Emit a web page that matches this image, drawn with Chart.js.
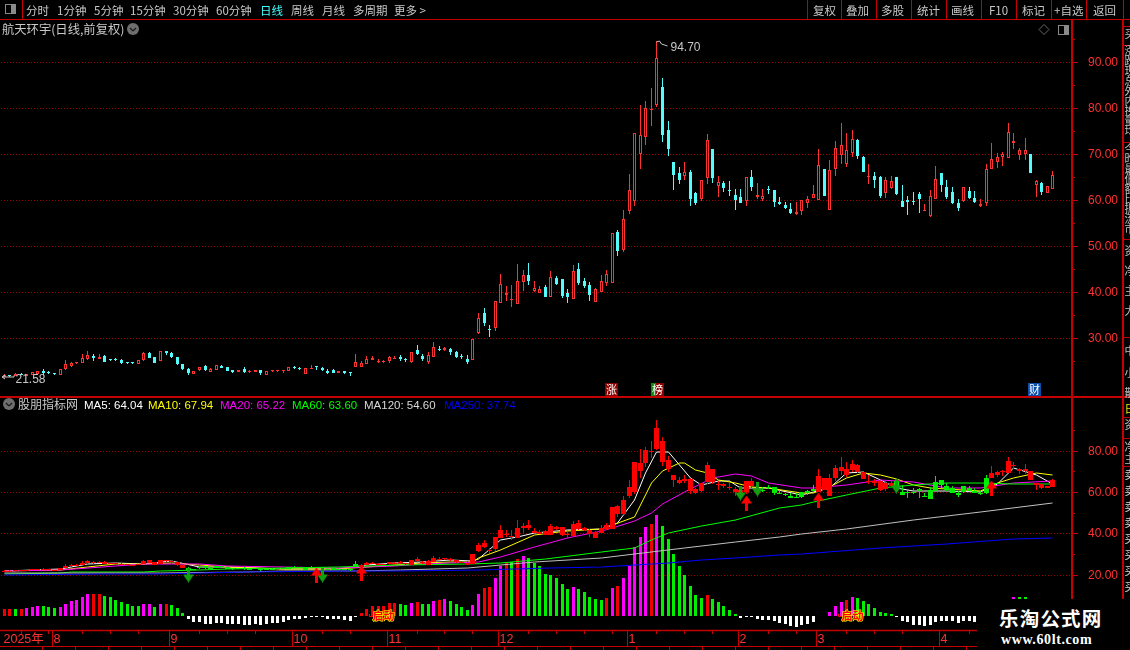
<!DOCTYPE html>
<html lang="zh"><head><meta charset="utf-8"><title>航天环宇</title>
<script src="https://cdn.jsdelivr.net/npm/chart.js@4"></script>
<style>
html,body{margin:0;padding:0;background:#000;width:1130px;height:650px;overflow:hidden}
#wrap{position:relative;width:1130px;height:650px;overflow:hidden;background:#000}
canvas{position:absolute;left:0;top:0}
.t{position:absolute;white-space:nowrap;font:11.5px/14px "Noto Sans CJK SC","Liberation Sans",sans-serif;color:#c8c8c8}
.n{font-family:"Liberation Sans","Noto Sans CJK SC",sans-serif;font-size:12px}
#wm{position:absolute;left:977px;top:599px;width:153px;height:51px;background:#000}
</style></head><body><div id="wrap">
<canvas id="c" width="1130" height="650"></canvas>
<div id="wm"></div>
</div>
<script>
// ---------- data ----------
const opens=[21.7,22.0,21.9,22.3,21.85,22.14,22.28,23.0,22.6,22.43,
22.14,23.37,24.02,24.6,24.74,25.47,26.27,25.54,26.2,25.47,
25.61,25.32,24.96,24.67,24.53,25.32,26.92,25.98,25.03,27.2,
26.77,25.98,24.46,23.3,22.36,23.15,24.02,22.79,23.22,24.02,
23.8,23.08,22.72,23.3,22.65,22.79,23.08,22.14,22.9,23.0,
22.95,23.0,23.8,23.66,22.36,23.44,23.88,23.66,23.0,23.15,
22.57,22.94,22.72,23.88,23.8,24.45,25.32,24.89,24.89,25.1,
25.55,25.9,25.54,24.89,27.5,26.2,24.89,25.98,27.64,27.5,
27.72,27.06,26.2,25.54,25.25,31.27,35.54,31.9,32.35,37.79,
39.53,38.3,37.57,42.35,43.8,40.32,39.89,41.19,39.09,43.15,
42.93,39.89,38.58,45.1,42.5,41.63,37.93,40.11,42.06,42,
53.08,49.24,57.8,59.9,70.0,73.74,79.7,80.84,84.68,75.33,
68.38,65.99,65.4,66.2,61.64,60.33,64.9,71.2,63.16,63.81,
62.2,61.2,60.77,59.9,65.11,60.84,60.33,62.5,62.29,59.68,
59.03,58.16,57.07,57.65,59.46,60.62,60.12,66.85,57.94,66.77,
69.9,68.0,70.4,73.15,69.45,65.0,65.32,65.1,61.63,62.71,
65.1,59.89,60.1,59.85,61.41,57.78,56.7,60.4,65.9,62.93,
61.85,59.45,59.89,62.06,60.54,58.8,59.53,66.77,68.37,69.45,
69.31,72.5,69.89,70.1,70.1,63.37,63.8,61.7,62.5];
const closes=[22.0,21.8,22.3,22.1,22.21,22.65,22.86,22.43,22.55,22.36,
23.3,24.38,24.67,24.89,25.69,26.41,25.76,25.9,24.96,25.32,
25.32,24.6,24.67,24.6,25.25,26.85,25.83,24.67,27.28,26.92,
25.9,24.46,23.37,22.43,22.86,23.8,23.15,23.37,24.24,23.66,
23.0,22.79,23.08,22.79,23.0,23.08,22.5,22.86,23.0,23.08,
23.05,23.73,23.59,23.44,23.51,23.5,23.73,23.22,22.43,22.43,
22.94,22.57,22.43,24.96,24.67,25.54,25.83,25.18,25.1,25.98,
25.7,25.6,25.32,27.06,26.63,25.54,26.41,28.15,27.5,27.93,
27.06,25.98,25.9,24.89,29.82,34.38,33.37,31.75,38.08,41.77,
39.89,38.58,42.42,43.73,42.5,40.98,40.76,39.02,43.37,41.85,
39.24,39.02,44.6,42.06,41.41,39.45,40.76,42.5,44.02,52.87,
49.1,56.0,62.2,74.6,74.17,80.04,79.8,90.91,74.25,71.2,
65.55,64.46,66.13,60.33,59.46,64.39,73.09,64.9,63.96,62.72,
62.0,60.12,59.46,65.04,62.94,61.2,60.91,62.3,59.68,59.25,
58.38,57.29,57.51,60.04,60.33,61.42,67.65,60.98,66.56,71.34,
71.99,70.9,73.29,69.67,66.19,65.1,64.45,60.98,64.45,64.24,
61.41,58.58,59.67,59.75,60.32,57.9,60.9,64.6,63.37,60.76,
59.45,58.37,62.86,60.54,59.67,59.24,66.77,68.95,69.45,70.1,
74.81,72.86,70.9,70.9,65.98,64.24,61.85,63.08,65.54];
const highs=[22.2,22.1,22.4,22.4,22.3,22.7,22.86,23.3,22.9,22.45,
23.3,25.32,24.96,24.96,26.63,27.2,26.63,26.63,26.41,25.61,
25.83,25.47,24.96,24.82,25.25,27.07,27.07,25.98,27.28,27.28,
26.99,25.98,24.46,23.59,22.86,23.8,24.24,23.51,24.24,24.31,
23.8,23.08,23.08,23.8,23.22,23.08,23.08,22.86,23.1,23.2,
23.1,23.73,24.02,23.88,23.51,24.24,23.88,23.88,23.3,23.44,
22.94,22.94,22.72,26.63,25.1,26.2,26.2,25.54,25.4,26.2,
26.2,26.41,25.83,27.06,28.58,26.63,27.06,29.24,28.37,28.15,
27.93,27.28,26.63,26.41,29.82,35.54,36.63,32.93,38.08,44.02,
41.41,41.63,46.2,44.89,46.41,42.5,41.41,41.63,44.67,43.58,
42.93,40.76,45.98,46.41,43.15,42.28,40.98,43.8,44.89,52.87,
53.6,57.9,65.8,74.6,80.77,81.6,84.46,94.7,86.64,77.29,
68.38,67.29,68.38,66.64,61.85,64.39,74.46,71.2,65.33,64.24,
64.24,62.5,62.5,65.04,66.64,63.81,62.5,63.16,62.29,60.77,
59.68,59.46,59.68,60.04,61.0,63.38,71.2,66.85,68.81,72.93,
76.84,74.67,75.32,73.37,69.67,67.93,66.19,65.32,65.1,65.32,
65.1,63.37,60.98,61.85,61.85,59.24,62.28,67.5,65.9,64.45,
62.93,60.32,62.86,62.93,62.06,60.32,67.93,72.5,70.32,70.54,
76.84,74.67,71.41,73.58,70.1,64.45,64.02,63.08,66.41];
const lows=[21.58,21.7,21.9,22.0,21.85,22.1,22.28,22.14,22.3,22.14,
22.14,23.15,23.9,24.38,24.74,25.25,25.18,25.54,24.96,25.18,
25.1,24.45,24.5,24.45,24.53,25.18,25.76,24.67,25.03,26.34,
25.76,24.17,23.15,22.14,22.36,22.86,23.0,22.79,23.22,23.66,
23.0,22.43,22.72,22.43,22.43,22.79,21.99,22.14,22.8,22.8,
22.6,23.0,23.37,23.15,22.36,23.44,23.15,23.0,22.28,22.43,
22.57,22.28,21.85,23.73,23.8,24.45,25.32,24.6,24.6,24.67,
25.55,25.1,24.89,24.67,26.41,25.1,24.45,25.98,27.28,27.28,
26.41,25.76,25.54,24.45,25.25,30.98,32.71,30.32,31.63,37.79,
38.15,36.85,37.57,40.32,41.63,40.03,39.89,39.02,39.09,41.63,
38.8,37.72,38.58,41.63,40.98,38.15,37.93,40.11,41.41,42,
48.0,48.9,57.07,58.8,66.85,72.07,76.2,80.33,72.72,69.68,
62.3,63.6,64.46,58.81,59.03,59.83,63.6,63.81,60.77,61.85,
60.98,57.94,59.46,58.81,62.07,60.33,59.9,61.42,58.6,59.03,
58.16,57.07,56.85,56.85,58.38,60.62,60.12,60.98,57.94,65.4,
67.93,67.35,69.45,69.02,66.19,63.58,62.71,60.54,60.54,62.5,
61.2,58.58,56.84,59.02,57.28,57.78,56.41,60.4,61.85,60.32,
59.24,57.71,59.67,60.32,59.45,58.58,58.8,66.77,67.06,67.5,
69.31,71.19,68.8,68.8,65.98,60.76,61.19,61.7,62.5];
const histValues=[6.7,6.7,7,6.7,8,9,10.3,10,9,8,
9,12,15,16,19,22,22,22,20,18.7,
16,14,12,10,10,12,12,9,12,12,
11,8,3,-3,-6,-6,-8,-8,-7,-7,
-8,-8,-8,-9,-9,-8,-9,-8,-7,-7,
-6,-4,-3,-3,-2,-1,-0.5,-1,-3,-3,
-3,-4,-5,-0.5,3,7,10,10,10,12.7,
12.7,12,11,13,14,12,12,15,16,17,
15,12,9,6,11,22,28,29,38,50,
54,54,57,60,58,53,50,42,41,38,
32,27,29,27,24,19,17,16,18,28,
30,38,50,69,79,89,92,101,90,77,
62,50,41,30,21,18,21,17,14,10,
6,2,-2,-1,-1,-3,-4,-4,-5,-7,
-8,-10,-11,-9,-8,-6,-0.3,-0.3,4,10,
14,16,19,18,15,12,8,4,3,2,
-1,-5,-6,-9,-9,-10,-9,-6,-5,-5,
-5,-7,-5,-5,-6,-3,2,8,12,15,
17,19,19,19,16,13,10,8,6];
const histKinds="RRGRMMMGGG"+"MMMMMMRRGG"+"GGGGGMMGMR"+"GGGWWWWWWW"+"WWWWWWWWWW"+"WWWWWWWWWW"+"WWWWRRRRRR"+"RGGMRGGMRM"+"GGGGMMRRMM"+"RGRMGGGGGG"+"GGMGGGGGRM"+"RMMMMMRMGG"+"GGGGGGRGGG"+"GGWWWWWWWW"+"WWWWWWWWMM"+"MRMGGGGGGG"+"WWWWWWWWWW"+"WWWWWWRRMM"+"MMGGGGGGG";
const greenRuns=[[33,63],[135,145],[160,176]];
const ma5=[[0,22],[5,22.3],[10,22.8],[15,25],[20,25.6],[25,25.3],[30,26.4],[35,23.5],[40,23.5],[50,23],[60,22.8],[65,24.5],[70,25.5],[75,26],[80,27],[84,26.5],[85,27.5],[89,36.8],[92,38.4],[95,40],[101,41.6],[107,42],[109,44],[110,45],[113,56],[115,69],[117,79.4],[119,79.4],[121,73],[123,66.6],[125,63.3],[128,65.2],[130,65.2],[132,61.7],[137,61.7],[143,58.5],[148,61.7],[151,69],[154,69.8],[157,65.7],[160,61.7],[163,60.5],[169,60.5],[175,59.8],[178,64],[181,71.4],[185,68.2],[188,64.04]];
const ma10=[[0,22],[10,22.4],[15,23.8],[20,25.4],[25,25.4],[30,25.8],[35,24.8],[40,23.5],[50,23],[60,23],[65,23.7],[70,24.8],[75,25.6],[80,26.3],[84,26.3],[85,27.9],[89,31.9],[95,39.2],[101,41.3],[107,42],[109,44],[113,48],[116,64.3],[118,70.2],[121,73.8],[122,74.1],[124,70.6],[126,69.3],[128,65.7],[131,64.1],[134,62.2],[137,61.7],[143,59.6],[145,59.3],[148,62.5],[151,66.6],[154,69],[157,68.2],[160,66],[163,63.3],[166,61.7],[169,61.3],[175,60.6],[178,64.1],[181,66.6],[185,69.3],[188,67.94]];
const ma20=[[0,21.9],[10,22.3],[20,24],[25,25],[30,25.4],[35,25.2],[40,24.4],[50,23.6],[60,23.2],[65,23.5],[70,24.2],[75,25],[80,25.8],[85,26.3],[89,28.7],[95,33.5],[101,37.6],[107,41.3],[109,42.5],[113,46],[116,49.8],[118,54.1],[122,60.1],[127,66.6],[131,68.5],[134,67.7],[137,64.1],[143,61.7],[145,61.7],[151,63.3],[157,65.7],[163,64.9],[169,61.7],[175,61.7],[181,64.1],[188,65.22]];
const ma60=[[0,20.5],[10,20.7],[12,21.2],[25,21.4],[28,21.8],[35,22.4],[40,23],[50,23.4],[60,23.9],[71,24.7],[83,25],[89,25.8],[97,27.6],[107,31],[113,32.7],[116,36.8],[119,40],[125,43.5],[131,46.4],[139,52],[143,53.7],[145,55.3],[151,58.5],[157,61.7],[163,63.3],[169,64.4],[175,64.1],[181,63.9],[188,63.6]];
const ma120=[[0,20.8],[8,20.8],[20,20.6],[28,20.9],[43,21.4],[50,21.9],[63,22],[71,22.4],[83,23.4],[95,26.1],[107,28],[113,30],[122,32.8],[131,35.9],[139,38.4],[143,39.5],[151,42],[163,46.4],[175,50.4],[188,54.6]];
const ma250=[[0,20.1],[18,20.3],[28,20.5],[43,21.1],[63,21.6],[71,21.8],[85,22.5],[98,23.1],[107,23.7],[119,25.8],[125,26.9],[131,27.9],[139,29.4],[143,29.8],[157,32.7],[169,34.8],[181,37.1],[188,37.74]];
const upSignals=[[56,19.9],[64,20.8],[133,54.6],[146,56],[177,61.9]];
const downSignals=[[33,19.9],[57,19.9],[132,59.5],[135,61.4],[160,62.8]];
const startSignals=[68,152];
const priceTicks=[30,40,50,60,70,80,90];
const priceMinorTicks=[25,35,45,55,65,75,85,95];
const indicatorTicks=[20,40,60,80];
const indicatorMinorTicks=[30,50,70,90];
const monthIdx=[0,9,30,52,69,89,112,132,146,168];
const monthLabels=["2025年","8","9","10","11","12","1","2","3","4"];
const categoryCount=192;
const categories=Array.from({length:categoryCount},(_,i)=>i);
const maxPriceIdx=117, maxPrice=94.70, minPriceIdx=0, minPrice=21.58;
const tagIdx={zhang:108.6,bang:117,cai:184.5};
const legend=[["MA5: 64.04","#fff",84],["MA10: 67.94","#ff0",148],["MA20: 65.22","#f0f",220],["MA60: 63.60","#0f0",292],["MA120: 54.60","#d8d8d8",364],["MA250: 37.74","#0000ff",444]];
// ---------- palette ----------
const RED="#ff3232",LINE="#c40000",CY="#54fcfc",SOLID_RED="#ff0000",SOLID_GREEN="#00ee00";
const N=opens.length;
const full=p=>{const a=Array(N).fill(null);p.forEach(([i,v])=>a[i]=v);return a};
const isUp=i=>closes[i]>=opens[i];
const isLowGreen=i=>greenRuns.some(([a,b])=>i>=a&&i<=b);
const kindColor={R:"#f00000",M:"#ff00ff",G:"#00f000",W:"#ffffff"};
const FONT='"Liberation Sans","Noto Sans CJK SC",sans-serif';
function arrow(color,up){
  const c=document.createElement('canvas');c.width=11;c.height=15;const g=c.getContext('2d');g.fillStyle=color;
  g.beginPath();
  if(up){g.moveTo(5.5,0);g.lineTo(11,8);g.lineTo(7,8);g.lineTo(7,15);g.lineTo(4,15);g.lineTo(4,8);g.lineTo(0,8);}
  else{g.moveTo(5.5,15);g.lineTo(11,7);g.lineTo(7,7);g.lineTo(7,0);g.lineTo(4,0);g.lineTo(4,7);g.lineTo(0,7);}
  g.closePath();g.fill();return c;
}
// keep marks on whole device pixels, like the pixel-grid drawing of the reference
const snap=(s,off)=>{if(s._snapped)return;const f=s.getPixelForValue.bind(s);s.getPixelForValue=(v,i)=>Math.round(f(v,i))+off;s._snapped=true};
const maLine=(label,d,color,order,w)=>({type:'line',label,data:full(d),borderColor:color,backgroundColor:color,borderWidth:w||1,pointRadius:0,spanGaps:true,tension:0,yAxisID:'yL',order});
const pairs=(a,b)=>a.map((v,i)=>[v,b[i]]);
const bar=(label,data,axis,thick,bg,order,extra)=>Object.assign({type:'bar',label,data,yAxisID:axis,barThickness:thick,backgroundColor:bg,grouped:false,order,minBarLength:1,borderWidth:0,borderSkipped:false,inflateAmount:0},extra||{});
const datasets=[
  bar('wick',pairs(lows,highs),'yP',1,opens.map((_,i)=>isUp(i)?RED:CY),12),
  bar('body',pairs(opens,closes),'yP',3,opens.map((_,i)=>isUp(i)?"#000":CY),11,{borderColor:opens.map((_,i)=>isUp(i)?RED:CY),borderWidth:1}),
  bar('hist',histValues,'yH',3,histValues.map((_,i)=>kindColor[histKinds[i]]),9,{minBarLength:0}),
  bar('lowWick',pairs(lows,highs),'yL',1,opens.map((_,i)=>isLowGreen(i)?SOLID_GREEN:SOLID_RED),6),
  bar('lowBody',pairs(opens,closes),'yL',5,opens.map((_,i)=>isLowGreen(i)?SOLID_GREEN:SOLID_RED),5),
  maLine('MA250',ma250,'#0000ff',8,1.2),
  maLine('MA120',ma120,'#c0c0c0',8,1),
  maLine('MA60',ma60,'#00ff00',8,1),
  maLine('MA20',ma20,'#ff00ff',8,1),
  maLine('MA10',ma10,'#ffff00',8,1),
  maLine('MA5',ma5,'#ffffff',8,1),
  {type:'line',label:'up',data:full(upSignals),showLine:false,pointStyle:arrow('#ff0000',true),pointRadius:8,yAxisID:'yL',order:1},
  {type:'line',label:'down',data:full(downSignals),showLine:false,pointStyle:arrow('#10a010',false),pointRadius:8,yAxisID:'yL',order:1}
];
const setTicks=arr=>s=>{s.ticks=arr.map(v=>({value:v}));snap(s,0)};
const yAxis=(min,max,ticks,w)=>({type:'linear',position:'right',stack:'r',stackWeight:w,min,max,
  afterBuildTicks:setTicks(ticks),afterFit:s=>{s.width=58;s.paddingTop=0;s.paddingBottom=0},
  grid:{color:"#a00000",lineWidth:1,tickLength:6,tickColor:LINE,tickBorderDash:[]},
  border:{color:LINE,width:2,dash:[1,2]},
  ticks:{color:RED,padding:10,labelOffset:1,autoSkip:false,font:{family:FONT,size:12},callback:v=>v.toFixed(2)}});
const chrome={id:'chrome',
  afterDraw(ch){
    const g=ch.ctx,x=ch.scales.x,P=ch.scales.yP,L=ch.scales.yL,H=ch.scales.yH,a=ch.chartArea;
    const ln=(x1,y1,x2,y2,c,w)=>{g.strokeStyle=c||LINE;g.lineWidth=w||1;g.beginPath();g.moveTo(x1,y1);g.lineTo(x2,y2);g.stroke()};
    g.save();g.setLineDash([]);
    // frame
    ln(0,19.5,1130,19.5);ln(0,397,1130,397,LINE,2);
    ln(1072,19,1072,a.top,LINE,2);
    ln(0,630.5,977,630.5,LINE,1.5);ln(0,646.5,977,646.5);
    ln(1123,19,1123,600,LINE,2);
    ln(22.5,0,22.5,19);
    [807,841,876,911,946,981,1016,1051,1086,1123].forEach(v=>ln(v+.5,0,v+.5,19));
    [26,45,142,239,337,417,438,466].forEach(v=>ln(1123,v+.5,1130,v+.5));
    // minor axis marks
    priceMinorTicks.forEach(v=>{const y=P.getPixelForValue(v)+.5;if(y>a.top)ln(1072,y,1075,y)});
    indicatorMinorTicks.forEach(v=>{const y=L.getPixelForValue(v)+.5;ln(1072,y,1075,y)});
    // date strip
    monthIdx.slice(1).forEach((m,k)=>{const px=x.getPixelForValue(m)-2;ln(px,630,px,646);
      const next=monthIdx[k+2]||188;for(let i=m+5;i<next-2;i+=5){const q=x.getPixelForValue(i);ln(q,630,q,634)}});
    for(let i=3;i<9;i+=5){const q=x.getPixelForValue(i);ln(q,630,q,634)}
    for(let v=42;v<977;v+=33)ln(v+.5,646,v+.5,650);
    // high / low flags
    const hx=x.getPixelForValue(maxPriceIdx),hy=P.getPixelForValue(maxPrice);
    g.strokeStyle="#c8c8c8";g.lineWidth=1;g.beginPath();g.moveTo(hx,hy+1);g.lineTo(hx+3,hy);g.lineTo(hx+5,hy+3);g.lineTo(hx+11,hy+5);g.stroke();
    g.fillStyle="#c8c8c8";g.font='12px '+FONT;g.textAlign='left';g.textBaseline='middle';
    g.fillText(maxPrice.toFixed(2),hx+14,hy+7);
    const ly=P.getPixelForValue(minPrice);
    ln(2,ly,14,ly,"#c8c8c8");ln(14,ly,14,ly-1.5,"#c8c8c8");ln(2,ly,5,ly-2,"#c8c8c8");ln(2,ly,5,ly+2,"#c8c8c8");
    g.fillStyle="#c8c8c8";g.fillText(minPrice.toFixed(2),15.5,ly+2.5);
    // event tags
    const tag=(idx,txt,c1,c2)=>{const px=Math.round(x.getPixelForValue(idx));g.fillStyle=c1;g.fillRect(px-6,383,13,13);if(c2){g.fillStyle=c2;g.fillRect(px-6,383,5,13)}
      g.fillStyle="#fff";g.font='11px "Noto Sans CJK SC"';g.textAlign='center';g.fillText(txt,px+.5,389.5)};
    tag(tagIdx.zhang,"涨","#8c0000");tag(tagIdx.bang,"榜","#8c0000","#108a10");tag(tagIdx.cai,"财","#0a4fa8");
    // start labels
    startSignals.forEach(i=>{const px=x.getPixelForValue(i),py=H.getPixelForValue(0);
      ln(px-14,py+.5,px-2,py+.5,"#ff0000",1);ln(px-14,py+.5,px-14,py-2,"#ff0000",1);
      g.font='bold 11px "Noto Sans CJK SC"';g.textAlign='center';g.textBaseline='middle';g.lineWidth=1.2;g.strokeStyle="#ffff00";g.strokeText("启动",px,py);g.fillStyle="#ff0000";g.fillText("启动",px,py)});
    // small icons
    const circ=(cx,cy)=>{g.fillStyle="#6e6e6e";g.beginPath();g.arc(cx,cy,6,0,7);g.fill();ln(cx-3,cy-1,cx,cy+2,"#1a1a1a",1.2);ln(cx,cy+2,cx+3,cy-1,"#1a1a1a",1.2)};
    circ(133,29);circ(9,404);
    const tog=(bx,by)=>{g.strokeStyle="#8a8a8a";g.lineWidth=1;g.strokeRect(bx+.5,by+.5,10,9);g.fillStyle="#8a8a8a";g.fillRect(bx+6,by+1,4,8)};
    tog(5,4);tog(1058,25);
    g.strokeStyle="#666";g.beginPath();g.moveTo(1044,24.5);g.lineTo(1049,29.5);g.lineTo(1044,34.5);g.lineTo(1039,29.5);g.closePath();g.stroke();
    g.restore();
  }};
new Chart(document.getElementById('c'),{
  data:{labels:categories,datasets},
  plugins:[chrome],
  options:{responsive:false,animation:false,devicePixelRatio:1,events:[],
    layout:{autoPadding:false,padding:{top:22,left:1,right:0,bottom:0}},
    plugins:{legend:{display:false},tooltip:{enabled:false},title:{display:false}},
    scales:{
      x:{type:'category',offset:true,grid:{display:false,drawTicks:false},border:{display:false},
        afterBuildTicks:s=>{s.ticks=monthIdx.map(v=>({value:v}));snap(s,.5)},afterFit:s=>{s.height=20;s.paddingLeft=0;s.paddingRight=0},
        ticks:{color:RED,autoSkip:false,maxRotation:0,minRotation:0,align:'start',padding:2,labelOffset:-1,font:{family:FONT,size:12.5},
          callback:(v)=>monthLabels[monthIdx.indexOf(v)]}},
      yP:Object.assign(yAxis(17.28,98.8,priceTicks,375),{weight:1}),
      yL:Object.assign(yAxis(-6.71,105.85,indicatorTicks,233),{weight:2}),
      yH:{type:'linear',display:false,position:'right',min:-14,max:594,grid:{drawTicks:false},ticks:{display:false},afterBuildTicks:s=>snap(s,0),afterFit:s=>{s.width=0;s.paddingTop=0;s.paddingBottom=0}}
    }}
});
// ---------- page text ----------
const wrap=document.getElementById('wrap');
const put=(txt,x,yc,color,cls,size,extra)=>{const d=document.createElement('div');d.className='t '+(cls||'');d.textContent=txt;d.style.left=x+'px';d.style.top=(yc-7)+'px';if(color)d.style.color=color;if(size)d.style.fontSize=size+'px';if(extra)Object.assign(d.style,extra);wrap.appendChild(d);return d};
const toolbarLeft=[["分时",26],["1分钟",57],["5分钟",94],["15分钟",130],["30分钟",173],["60分钟",216],["日线",260,"#4ff"],["周线",291],["月线",322],["多周期",353],["更多 >",394]];
toolbarLeft.forEach(([t,x,c])=>put(t,x,9.5,c));
const toolbarRight=[["复权",813],["叠加",846],["多股",881],["统计",917],["画线",951],["F10",989],["标记",1022],["+自选",1054],["返回",1093]];
toolbarRight.forEach(([t,x])=>put(t,x,9.5));
put("航天环宇(日线,前复权)",2,29,"#c8c8c8",'',12.3);
put("股朋指标网",18,404,"#c8c8c8",'',12);
legend.forEach(([t,c,x])=>put(t,x,404.5,c,'n',11.5));
const sideRows=[[33,"买"],[50,"涨"],[60,"跌"],[70,"现"],[80,"总"],[90,"外"],[100,"内"],[110,"换"],[120,"量"],[130,"均"],[148,"今"],[158,"昨"],[168,"最"],[178,"低"],[188,"额"],[198,"比"],[208,"振"],[218,"流"],[228,"市"],[250,"资"],[270,"净"],[290,"主"],[310,"大"],[350,"中"],[372,"小"],[392,"散"],[424,"资"],[446,"净"],[458,"主"],[474,"卖"],[490,"卖"],[506,"卖"],[522,"卖"],[538,"买"],[554,"买"],[570,"买"],[586,"买"]];
sideRows.forEach(([y,t])=>put(t,1124.5,y,y>470?"#dcdcdc":"#c0c0c0",'',11));
put("日",1124.5,408,"#e8e800",'',11);
const wm=document.getElementById('wm');
const mark=(t,x,y,s)=>{const d=document.createElement('div');d.className='t';d.textContent=t;Object.assign(d.style,s,{left:x+'px',top:y+'px',color:'#fff'});wm.appendChild(d)};
mark("乐淘公式网",22,7,{font:'bold 19.5px/24px "Noto Sans CJK SC"',letterSpacing:'1.2px'});
mark("www.60lt.com",24,33,{font:'bold 14px/16px "Liberation Serif"',letterSpacing:'0.6px'});
</script></body></html>
